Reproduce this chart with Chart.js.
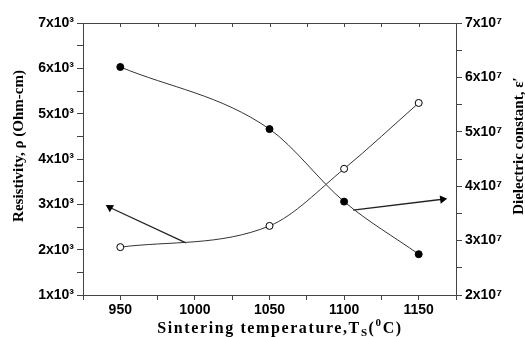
<!DOCTYPE html>
<html>
<head>
<meta charset="utf-8">
<script src="https://cdn.jsdelivr.net/npm/chart.js@4.4.0/dist/chart.umd.min.js"></script>
<style>
html, body { margin: 0; padding: 0; background: #fff; }
</style>
</head>
<body>
<canvas id="chart" width="525" height="337"></canvas>
<script>
// values
var temps = [950, 1050, 1100, 1150];
var resistivity = [6030, 4660, 3060, 1900];        // Ohm-cm, left axis
var dielectric = [2.88e7, 3.27e7, 4.32e7, 5.53e7];  // right axis
var arrowRes = [{x: 994, y: 2150}, {x: 943, y: 2930}];
var arrowDiel = [{x: 1106, y: 3.56e7}, {x: 1166, y: 3.76e7}];
var xLabels = [950, 1000, 1050, 1100, 1150];

var tickFont = {family: '"Liberation Sans", Arial, sans-serif', size: 14, weight: 'bold'};
var axisCol = '#444';

function pts(xs, ys) {
  var out = [];
  for (var i = 0; i < xs.length; i++) out.push({x: xs[i], y: ys[i]});
  return out;
}

// titles with sub/superscripts and the top frame line
var extras = {
  id: 'extras',
  afterDraw: function(c) {
    var ctx = c.ctx, a = c.chartArea;
    ctx.save();
    ctx.strokeStyle = axisCol;
    ctx.lineWidth = 1;
    ctx.beginPath();
    ctx.moveTo(a.left, a.top + 0.5);
    ctx.lineTo(a.right, a.top + 0.5);
    var xs = c.scales.x;
    xs.ticks.forEach(function(t) {
      var px = Math.round(xs.getPixelForValue(t.value)) + 0.5;
      ctx.moveTo(px, a.top);
      ctx.lineTo(px, a.top + 4);
    });
    ctx.stroke();

    ctx.fillStyle = '#000';
    ctx.font = 'bold 15px "Liberation Serif", "Times New Roman", serif';
    ctx.textAlign = 'center';
    ctx.textBaseline = 'middle';
    ctx.save();
    ctx.translate(19, 146);
    ctx.rotate(-Math.PI / 2);
    ctx.fillText('Resistivity, \u03c1 (Ohm-cm)', 0, 0);
    ctx.restore();
    ctx.save();
    ctx.translate(519, 146);
    ctx.rotate(-Math.PI / 2);
    ctx.fillText('Dielectric constant, \u03b5\u2032', 0, 0);
    ctx.restore();

    // x title: Sintering temperature,T_S(^0C)
    ctx.textAlign = 'left';
    ctx.textBaseline = 'alphabetic';
    ctx.letterSpacing = '1.6px';
    var big = 'bold 16px "Liberation Serif", "Times New Roman", serif';
    var small = 'bold 11px "Liberation Serif", "Times New Roman", serif';
    var parts = [
      ['Sintering temperature,T', big, 0],
      ['S', small, 3],
      ['(', big, 0],
      ['0', small, -7],
      ['C)', big, 0]
    ];
    var w = 0;
    parts.forEach(function(p) { ctx.font = p[1]; w += ctx.measureText(p[0]).width; });
    var x = 280 - w / 2, y = 333;
    parts.forEach(function(p) {
      ctx.font = p[1];
      ctx.fillText(p[0], x, y + p[2]);
      x += ctx.measureText(p[0]).width;
    });
    ctx.restore();
  }
};

new Chart(document.getElementById('chart').getContext('2d'), {
  type: 'line',
  data: {
    datasets: [{
      data: pts(temps, resistivity),
      yAxisID: 'y',
      borderColor: '#333',
      borderWidth: 1,
      pointBackgroundColor: '#000',
      pointBorderColor: '#000',
      pointRadius: 3.5,
      cubicInterpolationMode: 'monotone'
    }, {
      data: pts(temps, dielectric),
      yAxisID: 'y2',
      borderColor: '#333',
      borderWidth: 1,
      pointBackgroundColor: '#fff',
      pointBorderColor: '#000',
      pointBorderWidth: 1,
      pointRadius: 3.5,
      cubicInterpolationMode: 'monotone'
    }, {
      data: arrowRes,
      yAxisID: 'y',
      borderColor: '#222',
      borderWidth: 1.3,
      tension: 0,
      pointRadius: [0, 3.5],
      pointStyle: 'triangle',
      pointRotation: [0, 301],
      pointBackgroundColor: '#000',
      pointBorderColor: '#000'
    }, {
      data: arrowDiel,
      yAxisID: 'y2',
      borderColor: '#222',
      borderWidth: 1.3,
      tension: 0,
      pointRadius: [0, 3.5],
      pointStyle: 'triangle',
      pointRotation: [0, 83],
      pointBackgroundColor: '#000',
      pointBorderColor: '#000'
    }]
  },
  options: {
    responsive: false,
    animation: false,
    layout: {padding: {top: 23, left: 0, right: 0, bottom: 0}},
    plugins: {legend: {display: false}, tooltip: {enabled: false}},
    scales: {
      x: {
        type: 'linear',
        min: 925,
        max: 1175,
        afterFit: function(s) { s.height = 42; },
        ticks: {
          stepSize: 25,
          color: '#000',
          font: tickFont,
          padding: 2,
          maxRotation: 0,
          autoSkip: false,
          callback: function(v) { return xLabels.indexOf(v) >= 0 ? String(v) : ''; }
        },
        grid: {drawOnChartArea: false, tickLength: 5, color: axisCol},
        border: {color: axisCol}
      },
      y: {
        position: 'left',
        min: 1000,
        max: 7000,
        afterFit: function(s) { s.width = 83; },
        ticks: {
          stepSize: 500,
          color: '#000',
          font: tickFont,
          padding: 3,
          autoSkip: false,
          callback: function(v) { return v % 1000 === 0 ? (v / 1000) + 'x10\u00b3' : ''; }
        },
        grid: {drawOnChartArea: false, tickLength: 6, color: axisCol},
        border: {color: axisCol}
      },
      y2: {
        position: 'right',
        min: 2e7,
        max: 7e7,
        afterFit: function(s) { s.width = 69; },
        ticks: {
          stepSize: 5e6,
          color: '#000',
          font: tickFont,
          padding: 3,
          autoSkip: false,
          callback: function(v) { return v % 1e7 === 0 ? Math.round(v / 1e7) + 'x10\u2077' : ''; }
        },
        grid: {drawOnChartArea: false, tickLength: 6, color: axisCol},
        border: {color: axisCol}
      }
    }
  },
  plugins: [extras]
});
</script>
</body>
</html>
